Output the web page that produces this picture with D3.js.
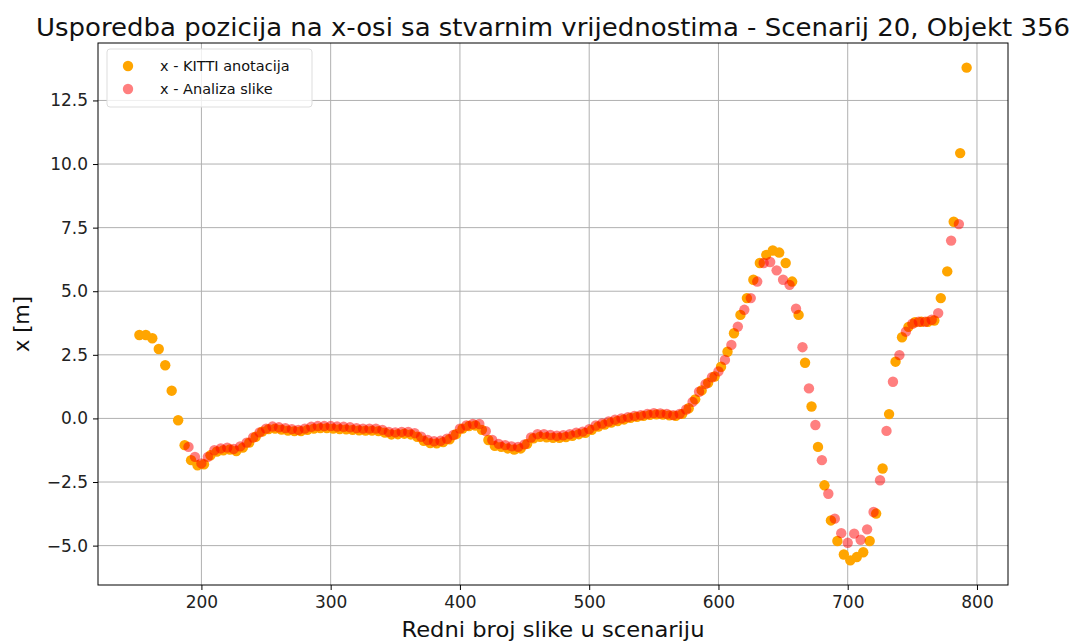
<!DOCTYPE html>
<html><head><meta charset="utf-8">
<script src="https://cdn.jsdelivr.net/npm/d3@7"></script>
<style>body{margin:0;background:#fff;} svg{display:block;} text{font-family:"DejaVu Sans",sans-serif;}</style>
</head><body><svg id="c" width="1079" height="644"></svg>
<script>
const kittiFrames = [152,157,162,167,172,177,182,187,192,197,202,207,212,217,222,227,232,237,242,247,252,257,262,267,272,277,282,287,292,297,302,307,312,317,322,327,332,337,342,347,352,357,362,367,372,377,382,387,392,397,402,407,412,417,422,427,432,437,442,447,452,457,462,467,472,477,482,487,492,497,502,507,512,517,522,527,532,537,542,547,552,557,562,567,572,577,582,587,592,597,602,607,612,617,622,627,632,637,642,647,652,657,662,667,672,677,682,687,692,697,702,707,712,717,722,727,732,737,742,747,752,757,762,767,772,777,782,787,792];
const kittiX = [3.28,3.28,3.15,2.73,2.09,1.09,-0.07,-1.05,-1.64,-1.84,-1.80,-1.45,-1.30,-1.25,-1.22,-1.28,-1.15,-0.95,-0.72,-0.52,-0.42,-0.40,-0.44,-0.48,-0.50,-0.50,-0.45,-0.40,-0.38,-0.38,-0.40,-0.42,-0.43,-0.45,-0.47,-0.48,-0.48,-0.50,-0.56,-0.63,-0.62,-0.60,-0.63,-0.72,-0.88,-0.97,-0.98,-0.93,-0.82,-0.62,-0.40,-0.30,-0.28,-0.45,-0.85,-1.08,-1.12,-1.18,-1.22,-1.18,-1.00,-0.78,-0.72,-0.74,-0.76,-0.76,-0.73,-0.68,-0.62,-0.57,-0.45,-0.32,-0.24,-0.16,-0.10,-0.04,0.02,0.06,0.10,0.14,0.16,0.15,0.12,0.10,0.18,0.40,0.75,1.10,1.40,1.65,2.03,2.62,3.35,4.07,4.73,5.45,6.11,6.43,6.60,6.52,6.11,5.38,4.07,2.19,0.47,-1.12,-2.63,-4.01,-4.82,-5.35,-5.58,-5.45,-5.26,-4.82,-3.74,-1.97,0.17,2.23,3.19,3.60,3.78,3.80,3.80,3.85,4.73,5.78,7.73,10.43,13.79];
const imgFrames = [190,195,200,205,210,215,220,225,230,235,240,245,250,255,260,265,270,275,280,285,290,295,300,305,310,315,320,325,330,335,340,345,350,355,360,365,370,375,380,385,390,395,400,405,410,415,420,425,430,435,440,445,450,455,460,465,470,475,480,485,490,495,500,505,510,515,520,525,530,535,540,545,550,555,560,565,570,575,580,585,590,595,600,605,610,615,620,625,630,635,640,645,650,655,660,665,670,675,680,685,690,695,700,705,710,715,720,725,730,735,740,745,750,755,760,765,770,780,786];
const imgX = [-1.12,-1.51,-1.77,-1.51,-1.25,-1.18,-1.15,-1.20,-1.10,-0.95,-0.75,-0.55,-0.40,-0.32,-0.35,-0.38,-0.42,-0.45,-0.40,-0.33,-0.30,-0.30,-0.30,-0.32,-0.33,-0.35,-0.38,-0.40,-0.40,-0.40,-0.45,-0.53,-0.55,-0.53,-0.53,-0.58,-0.72,-0.85,-0.90,-0.88,-0.80,-0.65,-0.40,-0.28,-0.22,-0.22,-0.50,-0.85,-1.00,-1.05,-1.10,-1.12,-1.02,-0.75,-0.62,-0.62,-0.65,-0.68,-0.66,-0.62,-0.56,-0.52,-0.42,-0.28,-0.20,-0.12,-0.05,0.00,0.05,0.10,0.13,0.18,0.21,0.20,0.18,0.13,0.18,0.35,0.65,1.05,1.35,1.62,1.85,2.30,2.89,3.61,4.27,4.73,5.38,6.11,6.15,5.82,5.45,5.25,4.31,2.80,1.18,-0.26,-1.64,-2.96,-3.94,-4.51,-4.89,-4.53,-4.77,-4.36,-3.68,-2.43,-0.49,1.44,2.49,3.41,3.72,3.80,3.80,3.88,4.14,6.99,7.64];
const xTicks = [200,300,400,500,600,700,800];
const yTicks = [-5,-2.5,0,2.5,5,7.5,10,12.5];
const legendLabels = ["x - KITTI anotacija","x - Analiza slike"];
const titleText = "Usporedba pozicija na x-osi sa stvarnim vrijednostima - Scenarij 20, Objekt 356";
const xLabel = "Redni broj slike u scenariju";
const yLabel = "x [m]";

const svg = d3.select("#c");
const L=98, R=1008, T=43, B=585;
const allF = kittiFrames.concat(imgFrames), allV = kittiX.concat(imgX);
const fx = d3.extent(allF), fy = d3.extent(allV);
const px = (fx[1]-fx[0])*0.05, py = (fy[1]-fy[0])*0.05;
const x = d3.scaleLinear().domain([fx[0]-px, fx[1]+px]).range([L,R]);
const y = d3.scaleLinear().domain([fy[0]-py, fy[1]+py]).range([B,T]);

// grid
const g = svg.append("g");
g.selectAll(".vg").data(xTicks).join("line").attr("x1",d=>x(d)).attr("x2",d=>x(d)).attr("y1",T).attr("y2",B).attr("stroke","#b0b0b0").attr("stroke-width",1);
g.selectAll(".hg").data(yTicks).join("line").attr("y1",d=>y(d)).attr("y2",d=>y(d)).attr("x1",L).attr("x2",R).attr("stroke","#b0b0b0").attr("stroke-width",1);

// points
svg.append("g").selectAll("circle").data(kittiFrames.map((f,i)=>[f,kittiX[i]])).join("circle")
  .attr("cx",d=>x(d[0])).attr("cy",d=>y(d[1])).attr("r",5.2).attr("fill","#ffa500");
svg.append("g").selectAll("circle").data(imgFrames.map((f,i)=>[f,imgX[i]])).join("circle")
  .attr("cx",d=>x(d[0])).attr("cy",d=>y(d[1])).attr("r",5.2).attr("fill","#ff0000").attr("fill-opacity",0.5);

// axes
const fmtY = d => (d<0?"\u2212":"") + Math.abs(d).toFixed(1);
const xa = svg.append("g").attr("transform",`translate(0,${B})`).call(d3.axisBottom(x).tickValues(xTicks).tickSize(5).tickPadding(6).tickFormat(d3.format("d")));
const ya = svg.append("g").attr("transform",`translate(${L},0)`).call(d3.axisLeft(y).tickValues(yTicks).tickSize(5).tickPadding(5).tickFormat(fmtY));
[xa,ya].forEach(a=>{a.select(".domain").remove(); a.selectAll("text").attr("font-family","DejaVu Sans").attr("font-size",17).attr("fill","#222"); a.selectAll("line").attr("stroke","#000");});
svg.append("rect").attr("x",L).attr("y",T).attr("width",R-L).attr("height",B-T).attr("fill","none").attr("stroke","#000").attr("stroke-width",1);

// labels
svg.append("text").attr("x",(L+R)/2).attr("y",36).attr("text-anchor","middle").attr("font-size",24).attr("fill","#111")
  .attr("textLength",1034).attr("lengthAdjust","spacingAndGlyphs").text(titleText);
svg.append("text").attr("x",(L+R)/2).attr("y",637).attr("text-anchor","middle").attr("font-size",21).attr("fill","#111")
  .attr("textLength",303).attr("lengthAdjust","spacingAndGlyphs").text(xLabel);
svg.append("text").attr("transform",`translate(29,${(T+B)/2+10}) rotate(-90)`).attr("text-anchor","middle").attr("font-size",21).attr("fill","#111").text(yLabel);

// legend
const lg = svg.append("g");
lg.append("rect").attr("x",107).attr("y",49).attr("width",205).attr("height",58).attr("rx",3).attr("fill","#fff").attr("fill-opacity",0.8).attr("stroke","#ddd");
const lcol = [["#ffa500",1],["#ff0000",0.5]];
legendLabels.forEach((t,i)=>{
  lg.append("circle").attr("cx",128).attr("cy",66+i*23).attr("r",5.2).attr("fill",lcol[i][0]).attr("fill-opacity",lcol[i][1]);
  lg.append("text").attr("x",160).attr("y",71+i*23).attr("font-size",14.5).attr("fill","#111").text(t);
});
</script></body></html>
